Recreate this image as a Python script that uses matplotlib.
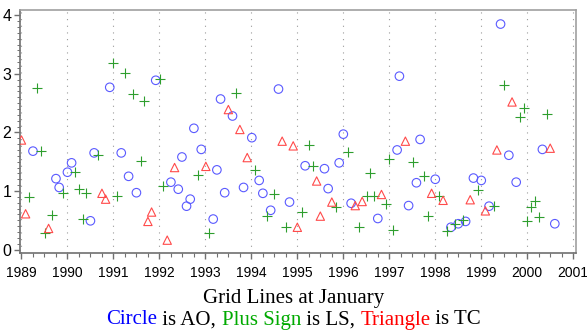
import matplotlib
matplotlib.use("Agg")
import matplotlib.pyplot as plt
from matplotlib.ticker import MultipleLocator, FixedLocator

# ---------------- data (decimal years, values) ----------------
ao_x = [1989.25, 1989.75, 1989.82, 1990.00, 1990.09, 1990.50, 1990.58, 1990.92,
        1991.17, 1991.33, 1991.50, 1991.92, 1992.25, 1992.41, 1992.49, 1992.59,
        1992.67, 1992.75, 1992.91, 1993.17, 1993.25, 1993.33, 1993.42, 1993.59,
        1993.83, 1994.01, 1994.17, 1994.25, 1994.42, 1994.59, 1994.83, 1995.17,
        1995.59, 1995.67, 1995.91, 1996.00, 1996.17, 1996.75, 1997.17, 1997.22,
        1997.42, 1997.59, 1997.67, 1998.00, 1998.34, 1998.50, 1998.66, 1998.83,
        1999.00, 1999.17, 1999.42, 1999.60, 1999.76, 2000.33, 2000.60]
ao_y = [1.68, 1.21, 1.06, 1.32, 1.48, 0.49, 1.65, 2.77,
        1.65, 1.25, 0.97, 2.89, 1.15, 1.03, 1.58, 0.74,
        0.86, 2.07, 1.71, 0.52, 1.36, 2.57, 0.97, 2.28,
        1.06, 1.91, 1.18, 0.96, 0.67, 2.74, 0.81, 1.43,
        1.38, 1.04, 1.48, 1.97, 0.79, 0.53, 1.70, 2.96,
        0.75, 1.14, 1.88, 1.20, 0.38, 0.44, 0.48, 1.22,
        1.18, 0.74, 3.85, 1.61, 1.15, 1.71, 0.44]

ls_x = [1989.17, 1989.33, 1989.42, 1989.51, 1989.67, 1989.91, 1990.17, 1990.25,
        1990.33, 1990.41, 1990.67, 1991.00, 1991.08, 1991.25, 1991.42, 1991.59,
        1991.67, 1992.02, 1992.08, 1992.83, 1993.07, 1993.67, 1994.08, 1994.33,
        1994.50, 1994.75, 1995.10, 1995.26, 1995.34, 1995.84, 1996.10, 1996.34,
        1996.51, 1996.58, 1996.67, 1996.92, 1997.00, 1997.09, 1997.51, 1997.76,
        1997.84, 1998.08, 1998.25, 1998.43, 1998.60, 1998.92, 1999.27, 1999.50,
        1999.84, 1999.93, 2000.00, 2000.08, 2000.17, 2000.26, 2000.43]
ls_y = [0.90, 2.76, 1.68, 0.29, 0.59, 0.97, 1.33, 1.04,
        0.52, 0.97, 1.61, 3.18, 0.91, 3.01, 2.66, 1.52,
        2.53, 2.91, 1.08, 1.27, 0.28, 2.68, 1.35, 0.58,
        0.95, 0.38, 0.64, 1.79, 1.43, 0.73, 1.67, 0.38,
        0.92, 1.30, 0.92, 0.77, 1.55, 0.33, 1.49, 1.25,
        0.57, 0.91, 0.31, 0.44, 0.50, 1.01, 0.75, 2.81,
        2.26, 2.41, 0.48, 0.73, 0.82, 0.55, 2.31]

tc_x = [1989.00, 1989.09, 1989.59, 1990.75, 1990.83, 1991.75, 1991.83, 1992.17,
        1992.33, 1993.01, 1993.50, 1993.75, 1993.91, 1994.67, 1994.91, 1995.00,
        1995.42, 1995.50, 1995.75, 1996.26, 1996.41, 1996.83, 1997.35, 1997.92,
        1998.17, 1998.76, 1999.09, 1999.34, 1999.67, 2000.50]
tc_y = [1.87, 0.61, 0.36, 0.96, 0.86, 0.48, 0.64, 0.16,
        1.40, 1.42, 2.39, 2.05, 1.57, 1.85, 1.77, 0.38,
        1.17, 0.57, 0.81, 0.75, 0.82, 0.94, 1.85, 0.96,
        0.84, 0.85, 0.66, 1.70, 2.52, 1.73]

year_ticks = list(range(1989, 2002))
year_labels = [str(y) for y in year_ticks]
y_ticks = [0, 1, 2, 3, 4]

# ---------------- figure ----------------
fig = plt.figure(figsize=(5.87, 3.33), dpi=100)
ax = fig.add_axes([19.5/587, 1-252.5/333, (575.5-19.5)/587, (252.5-10)/333])

blue = '#5a5aff'
green = '#2e9e2e'
red = '#ff4a4a'

ax.scatter(ao_x, ao_y, marker='o', s=38, facecolors='none', edgecolors=blue, linewidths=0.8, zorder=3)
ax.scatter(ls_x, ls_y, marker='+', s=42, color=green, linewidths=0.8, zorder=3)
ax.scatter(tc_x, tc_y, marker='^', s=36, facecolors='none', edgecolors=red, linewidths=0.8, zorder=3)

ax.set_xlim(1988.957, 2001.05)
ax.set_ylim(-0.051, 4.09)

ax.set_xticks(year_ticks)
ax.set_xticklabels(year_labels)
ax.xaxis.set_minor_locator(MultipleLocator(0.25))
ax.set_yticks(y_ticks)
ax.set_yticklabels([str(v) for v in y_ticks])
ax.yaxis.set_minor_locator(MultipleLocator(0.1))

ax.grid(True, axis='x', which='major', color='#9a9a9a', linestyle=(0, (1, 5)), linewidth=0.8)

for sp in ax.spines.values():
    sp.set_color('#a0a0a0')
    sp.set_linewidth(1.2)
ax.spines['left'].set_color('#707070')
ax.spines['bottom'].set_color('#707070')

ax.tick_params(axis='x', which='major', direction='out', length=4, width=1, color='#707070',
               labelsize=10, pad=6, top=False)
ax.tick_params(axis='x', which='minor', direction='out', length=3, width=0.8, color='#707070', top=False)
ax.tick_params(axis='y', which='major', direction='out', length=4, width=1, color='#707070',
               labelsize=11.5, pad=2, right=False)
ax.tick_params(axis='y', which='minor', direction='out', length=2, width=0.7, color='#707070', right=False)
for lab in ax.get_xticklabels() + ax.get_yticklabels():
    lab.set_family('Liberation Sans')

# ---------------- footnotes ----------------
fs = 15
fig.text(0.5, 1-298/333, 'Grid Lines at January', ha='center', va='center',
         family='Liberation Serif', fontsize=fs, color='black')

pieces = [('Circle', '#0000ff'), (' is AO, ', 'black'), ('Plus Sign', '#00aa00'),
          (' is LS, ', 'black'), ('Triangle', '#ff0000'), (' is TC', 'black')]
fig.canvas.draw()
renderer = fig.canvas.get_renderer()
yline = 1-320/333

def width_of(s):
    t = fig.text(0, 0, s + '|', family='Liberation Serif', fontsize=fs)
    bar = fig.text(0, 0, '|', family='Liberation Serif', fontsize=fs)
    w = t.get_window_extent(renderer).width - bar.get_window_extent(renderer).width
    t.remove(); bar.remove()
    return w

full = ''.join(p for p, _ in pieces)
total_w = width_of(full)
fig_w = fig.bbox.width
start = (fig_w - total_w) / 2
prefix = ''
for text, col in pieces:
    x0 = start + (width_of(prefix) if prefix else 0)
    fig.text(x0 / fig_w, yline, text, ha='left', va='center', family='Liberation Serif',
             fontsize=fs, color=col)
    prefix += text

fig.savefig('out.png', dpi=100)
